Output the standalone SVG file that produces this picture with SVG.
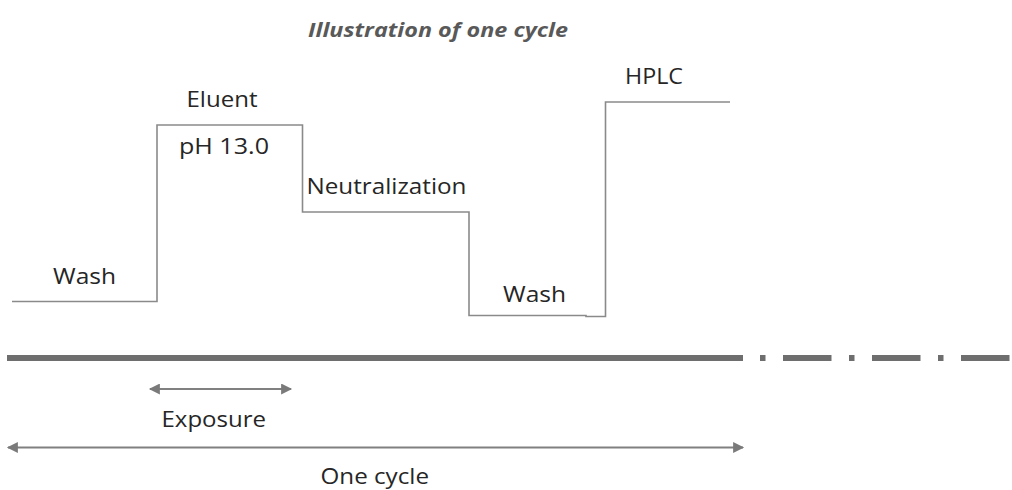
<svg xmlns="http://www.w3.org/2000/svg" width="1012" height="490" viewBox="0 0 1012 490">
<defs>
<style>
.lbl{font-family:"Open Sans","Liberation Sans",sans-serif;font-size:22.5px;fill:#262626}
.title{font-family:"Open Sans","Liberation Sans",sans-serif;font-size:20px;font-weight:bold;font-style:italic;fill:#595959}
.step{fill:none;stroke:#8a8a8a;stroke-width:1.6}
.arr{stroke:#808080;stroke-width:2;fill:none}
</style>
<marker id="ah" viewBox="0 0 10 10" refX="9" refY="5" markerWidth="13" markerHeight="11" markerUnits="userSpaceOnUse" orient="auto-start-reverse">
<path d="M0,0 L10,5 L0,10 Z" fill="#7a7a7a"/>
</marker>
</defs>
<rect width="1012" height="490" fill="#ffffff"/>
<g id="title"><text class="title" x="308" y="37" textLength="260" lengthAdjust="spacingAndGlyphs">Illustration of one cycle</text></g>
<g id="profile">
<path class="step" d="M12,301.5 H157 V125 H302.5 V212 H469 V315.5 H586 V316.5 H605.5 V102 H730"/>
</g>
<g id="wash1"><text class="lbl" x="53" y="284" textLength="63" lengthAdjust="spacingAndGlyphs">Wash</text></g>
<g id="eluent"><text class="lbl" x="186.5" y="107" textLength="71" lengthAdjust="spacingAndGlyphs">Eluent</text></g>
<g id="ph"><text class="lbl" x="179" y="154" textLength="90" lengthAdjust="spacingAndGlyphs">pH 13.0</text></g>
<g id="neutralization"><text class="lbl" x="306.5" y="193.5" textLength="160" lengthAdjust="spacingAndGlyphs">Neutralization</text></g>
<g id="wash2"><text class="lbl" x="503" y="302" textLength="63" lengthAdjust="spacingAndGlyphs">Wash</text></g>
<g id="hplc"><text class="lbl" x="625" y="83.5" textLength="58" lengthAdjust="spacingAndGlyphs">HPLC</text></g>
<g id="timeline">
<line x1="7" y1="358" x2="743" y2="358" stroke="#6e6e6e" stroke-width="6"/>
<line x1="760" y1="358" x2="1012" y2="358" stroke="#6e6e6e" stroke-width="6" stroke-dasharray="5.5 17.5 48.5 17.5" stroke-dashoffset="0"/>
</g>
<g id="connectors">
<line class="arr" x1="150" y1="389" x2="291" y2="389" marker-start="url(#ah)" marker-end="url(#ah)"/>
<line class="arr" x1="8" y1="447.5" x2="743" y2="447.5" marker-start="url(#ah)" marker-end="url(#ah)"/>
</g>
<g id="exposure"><text class="lbl" x="161.5" y="426.5" textLength="104.5" lengthAdjust="spacingAndGlyphs">Exposure</text></g>
<g id="onecycle"><text class="lbl" x="320.5" y="483.5" textLength="108.5" lengthAdjust="spacingAndGlyphs">One cycle</text></g>
</svg>
